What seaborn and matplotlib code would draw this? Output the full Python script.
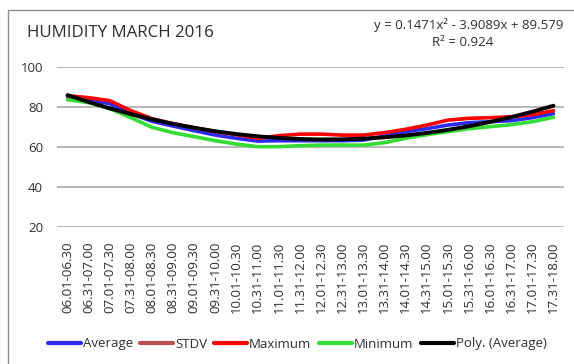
import numpy as np
import pandas as pd
import matplotlib
matplotlib.use("Agg")
import matplotlib.pyplot as plt
from matplotlib.lines import Line2D
from matplotlib.patches import Rectangle
import seaborn as sns

# Half-hour time slots
slots = [
    "06.01-06.30", "06.31-07.00", "07.01-07.30", "07.31-08.00",
    "08.01-08.30", "08.31-09.00", "09.01-09.30", "09.31-10.00",
    "10.01-10.30", "10.31-11.00", "11.01-11.30", "11.31-12.00",
    "12.01-12.30", "12.31-13.00", "13.01-13.30", "13.31-14.00",
    "14.01-14.30", "14.31-15.00", "15.01-15.30", "15.31-16.00",
    "16.01-16.30", "16.31-17.00", "17.01-17.30", "17.31-18.00",
]

# Relative humidity (%) per slot
average = [85.0, 83.5, 81.5, 76.5, 72.7, 70.3, 68.0, 65.8, 64.2, 62.8, 63.0, 63.0,
           63.0, 63.0, 63.3, 65.3, 67.5, 69.0, 70.8, 72.0, 72.5, 73.0, 74.5, 76.5]
stdv = [1.2, 1.4, 1.9, 2.1, 2.4, 2.3, 2.2, 2.0, 2.0, 1.9, 2.2, 2.4,
        2.3, 2.2, 2.3, 2.4, 2.2, 2.3, 2.5, 2.4, 2.2, 2.0, 1.8, 1.7]
maximum = [85.5, 84.5, 83.0, 78.0, 74.0, 71.5, 69.5, 67.5, 66.0, 64.2, 65.5, 66.3,
           66.3, 65.8, 65.8, 67.0, 68.7, 70.8, 73.3, 74.2, 74.5, 75.0, 76.0, 78.0]
minimum = [83.5, 82.0, 79.0, 74.5, 69.7, 67.0, 65.0, 63.0, 61.3, 60.0, 60.0, 60.5,
           60.8, 60.8, 60.8, 62.0, 64.2, 66.0, 67.5, 69.0, 70.0, 71.0, 72.5, 74.7]

# Quadratic trendline of the average series
trend_coeffs = [0.1471, -3.9089, 89.579]
trend_r2 = 0.924

series_names = ["Average", "STDV", "Maximum", "Minimum"]
series_colors = {"Average": "#2B2BF0", "STDV": "#C0504D",
                 "Maximum": "#FF0000", "Minimum": "#33DD33"}
trend_color = "#000000"
text_color = "#2E2E2E"

sns.set_theme(style="white")
plt.rcParams["font.family"] = ["Open Sans", "DejaVu Sans"]

pos = np.arange(len(slots))
long = pd.concat(
    [pd.DataFrame({"slot": pos, "value": vals, "series": name})
     for name, vals in zip(series_names, [average, stdv, maximum, minimum])],
    ignore_index=True,
)
trend = pd.DataFrame({"slot": pos, "value": np.polyval(trend_coeffs, pos + 1)})

fig = plt.figure(figsize=(5.74, 3.64), dpi=100)
fig.patch.set_facecolor("white")
# chart frame
fig.patches.append(Rectangle((8 / 574, -0.1), 1.2, 1 - 10 / 364 + 0.1,
                             transform=fig.transFigure, fill=False,
                             edgecolor="#8C8C8C", linewidth=1.0))

ax = fig.add_axes([57 / 574, 1 - 226.7 / 364, (564 - 57) / 574, 160 / 364])
ax.set_facecolor("none")

sns.lineplot(data=long, x="slot", y="value", hue="series",
             hue_order=series_names, palette=series_colors,
             linewidth=2.6, legend=False, ax=ax)
sns.lineplot(data=trend, x="slot", y="value", color=trend_color,
             linewidth=2.8, legend=False, ax=ax)

ax.set_xlim(-0.5, len(slots) - 0.5)
ax.set_ylim(20, 100)
ax.set_yticks([20, 40, 60, 80, 100])
ax.set_xticks(pos)
ax.set_xticklabels(slots, rotation=90)
ax.set_xlabel("")
ax.set_ylabel("")
ax.yaxis.grid(True, color="#ABABAB", linewidth=1.2)
ax.xaxis.grid(False)
for s in ax.spines.values():
    s.set_visible(False)
ax.tick_params(axis="both", length=0, labelsize=9.5, colors=text_color)
ax.tick_params(axis="y", pad=10)
ax.tick_params(axis="x", pad=11)

fig.text(27 / 574, 1 - 33 / 364, "HUMIDITY MARCH 2016", fontsize=12.2,
         color=text_color, ha="left", va="center")
fig.text(563 / 574, 1 - 25 / 364,
         "y = {:.4f}x² - {:.4f}x + {:.3f}".format(trend_coeffs[0], -trend_coeffs[1], trend_coeffs[2]),
         fontsize=9.5, color=text_color, ha="right", va="center")
fig.text(463 / 574, 1 - 42 / 364, "R² = {:.3f}".format(trend_r2),
         fontsize=9.5, color=text_color, ha="center", va="center")

handles = [Line2D([], [], color=series_colors[n], linewidth=3) for n in series_names]
handles.append(Line2D([], [], color=trend_color, linewidth=3))
labels = series_names + ["Poly. (Average)"]
fig.legend(handles, labels, loc="center", bbox_to_anchor=(297 / 574, 1 - 344 / 364),
           ncol=5, frameon=False, fontsize=9.5, handlelength=2.5,
           handletextpad=0.15, columnspacing=0.55, labelcolor=text_color)

fig.savefig("out.png", dpi=100, facecolor="white")
